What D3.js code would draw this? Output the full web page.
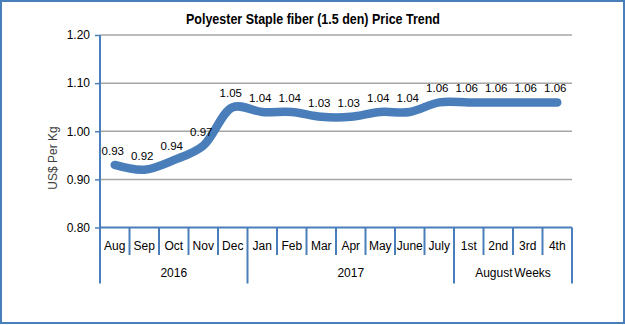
<!DOCTYPE html>
<html><head><meta charset="utf-8">
<script src="https://cdn.jsdelivr.net/npm/d3@7"></script>
<style>body{margin:0;background:#fff}svg{display:block}</style>
</head><body>
<script>
const categories = ["Aug","Sep","Oct","Nov","Dec","Jan","Feb","Mar","Apr","May","June","July","1st","2nd","3rd","4th"];
const prices = [0.93,0.92,0.94,0.97,1.05,1.04,1.04,1.03,1.03,1.04,1.04,1.06,1.06,1.06,1.06,1.06];
const groups = [
  {label:"2016", start:0, end:5},
  {label:"2017", start:5, end:12},
  {label:"August Weeks", start:12, end:16}
];
const yTicks = [0.80,0.90,1.00,1.10,1.20];
const title = "Polyester Staple fiber (1.5 den) Price Trend";
const yTitle = "US$ Per Kg";

(function(){
const W=625,H=325;
const pL=100,pR=572,pT=35,pB=227.5;
const blue="#4a7ebb", lineBlue="#4a7ebb";
const svg=d3.select("body").append("svg").attr("width",W).attr("height",H);
svg.append("rect").attr("width",W).attr("height",H).attr("fill","#fff");
svg.append("rect").attr("x",1).attr("y",1).attr("width",W-2).attr("height",H-3)
  .attr("fill","none").attr("stroke",blue).attr("stroke-width",2);

const x=d3.scaleBand().domain(d3.range(categories.length)).range([pL,pR]).padding(0);
const y=d3.scaleLinear().domain([0.8,1.2]).range([pB,pT]);
const font="Liberation Sans, Arial, sans-serif";

// title
svg.append("text").attr("x",313).attr("y",24).attr("text-anchor","middle")
  .attr("font-family","'Liberation Sans Narrow','Arial Narrow',sans-serif").attr("font-weight","bold")
  .attr("font-size",15.5).attr("fill","#000")
  .attr("textLength",254).attr("lengthAdjust","spacingAndGlyphs").text(title);

// gridlines
svg.append("g").selectAll("line").data(yTicks.filter(d=>d>0.8)).join("line")
  .attr("x1",pL).attr("x2",pR).attr("y1",d=>y(d)).attr("y2",d=>y(d))
  .attr("stroke","#a6a6a6").attr("stroke-width",1.5);

// y axis
const yAxis=d3.axisLeft(y).tickValues(yTicks).tickFormat(d3.format(".2f")).tickSize(5).tickPadding(5);
const gy=svg.append("g").attr("transform",`translate(${pL},0)`).call(yAxis);
gy.select(".domain").remove();
gy.selectAll(".tick line").attr("stroke",blue).attr("stroke-width",1.5);
gy.selectAll(".tick text").attr("font-family",font).attr("font-size",12).attr("fill","#000");
svg.append("line").attr("x1",pL).attr("x2",pL).attr("y1",pT).attr("y2",283.5)
  .attr("stroke",blue).attr("stroke-width",2);

// x axis
svg.append("line").attr("x1",pL).attr("x2",pR).attr("y1",pB).attr("y2",pB)
  .attr("stroke",blue).attr("stroke-width",2);
const groupEdges=new Set(groups.flatMap(g=>[g.start,g.end]));
svg.append("g").selectAll("line").data(d3.range(1,categories.length+1)).join("line")
  .attr("x1",i=>i<categories.length?x(i):pR).attr("x2",i=>i<categories.length?x(i):pR)
  .attr("y1",pB).attr("y2",i=>groupEdges.has(i)?283.5:255)
  .attr("stroke",blue).attr("stroke-width",2);
svg.append("g").selectAll("text").data(categories).join("text")
  .attr("x",(d,i)=>x(i)+x.bandwidth()/2).attr("y",249.5).attr("text-anchor","middle")
  .attr("font-family",font).attr("font-size",12).attr("fill","#000").text(d=>d);
svg.append("g").selectAll("text").data(groups).join("text")
  .attr("x",g=>(x(g.start)+(g.end<categories.length?x(g.end):pR))/2).attr("y",277)
  .attr("text-anchor","middle").attr("font-family",font).attr("font-size",12).attr("fill","#000")
  .attr("word-spacing",-1.5).text(g=>g.label);

// y title
svg.append("text").attr("transform","translate(57,158) rotate(-90)").attr("text-anchor","middle")
  .attr("font-family",font).attr("font-size",12).attr("fill","#404040").text(yTitle);

// line
const line=d3.line().x((d,i)=>x(i)+x.bandwidth()/2).y(d=>y(d)).curve(d3.curveCatmullRom.alpha(0.5));
svg.append("path").datum(prices).attr("d",line).attr("fill","none").attr("stroke",lineBlue)
  .attr("stroke-width",8.5).attr("stroke-linecap","round").attr("stroke-linejoin","round");

// labels
svg.append("g").selectAll("text").data(prices).join("text")
  .attr("x",(d,i)=>x(i)+x.bandwidth()/2-2).attr("y",d=>y(d)-10).attr("text-anchor","middle")
  .attr("font-family",font).attr("font-size",11.5).attr("fill","#000").text(d=>d.toFixed(2));
})();
</script>
</body></html>
